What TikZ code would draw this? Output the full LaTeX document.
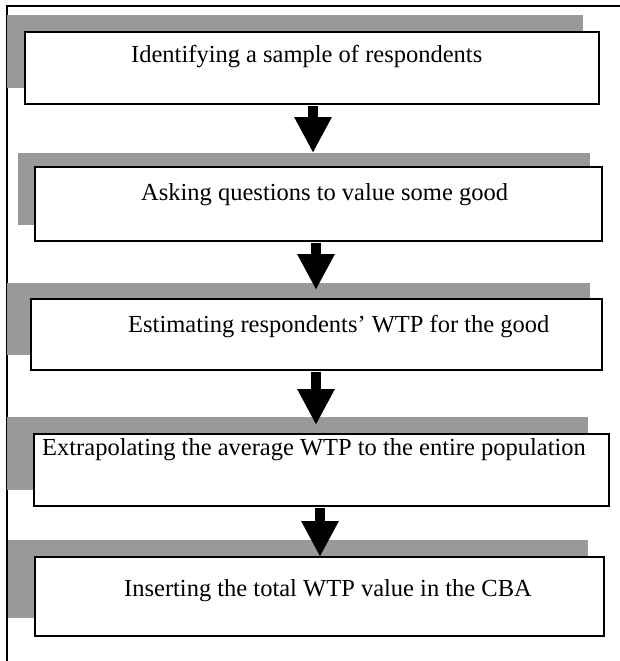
\documentclass[tikz,border=0pt]{standalone}
\usepackage{fontspec}
\setmainfont{Liberation Serif}
\usetikzlibrary{arrows.meta}
\definecolor{shade}{rgb}{0.60,0.60,0.60}
\tikzset{
  boxnode/.style={draw=black, line width=1.8pt, fill=white, inner sep=0pt},
  shadenode/.style={fill=shade, draw=none},
  txt/.style={anchor=base west, inner sep=0pt, font=\fontsize{24.5}{28}\selectfont},
  flowarrow/.style={line width=10pt, -{Triangle[width=35pt,length=36pt]}},
}
\begin{document}
\begin{tikzpicture}[x=1pt,y=-1pt]
\useasboundingbox (0,0) rectangle (620,661);
% frame
\draw[line width=1.6pt] (7,661) -- (7,6) -- (620,6);
% shadows
\path[shadenode] (7,15) rectangle (583,88);
\path[shadenode] (18,153) rectangle (590,225);
\path[shadenode] (7,283) rectangle (590,355);
\path[shadenode] (7,417) rectangle (588,490);
\path[shadenode] (8,540) rectangle (588,618);
\coordinate (e2) at (313,153);
\coordinate (e3) at (316,290);
\coordinate (e4) at (316,425);
\coordinate (e5) at (320,557);
% boxes
\node[boxnode, minimum width=574pt, minimum height=72pt] (b1) at (312,68) {};
\node[boxnode, minimum width=567pt, minimum height=74pt] (b2) at (318.5,204) {};
\node[boxnode, minimum width=571pt, minimum height=71pt] (b3) at (316.5,334.5) {};
\node[boxnode, minimum width=575pt, minimum height=72pt] (b4) at (321.5,470) {};
\node[boxnode, minimum width=569pt, minimum height=79pt] (b5) at (319.5,596.5) {};
% texts
\node[txt] (t1) at (131,63) {Identifying a sample of respondents};
\node[txt] (t2) at (141,200) {Asking questions to value some good};
\node[txt] (t3) at (128,332) {Estimating respondents’ WTP for the good};
\node[txt] (t4) at (42,455) {Extrapolating the average WTP to the entire population};
\node[txt] (t5) at (124,596) {Inserting the total WTP value in the CBA};
% arrows
\draw[flowarrow] ([yshift=-1pt]b1.south -| e2) -- (e2);
\draw[flowarrow] ([yshift=-1pt]b2.south -| e3) -- (e3);
\draw[flowarrow] ([yshift=-1pt]b3.south -| e4) -- (e4);
\draw[flowarrow] ([yshift=-1pt]b4.south -| e5) -- (e5);
\end{tikzpicture}
\end{document}
